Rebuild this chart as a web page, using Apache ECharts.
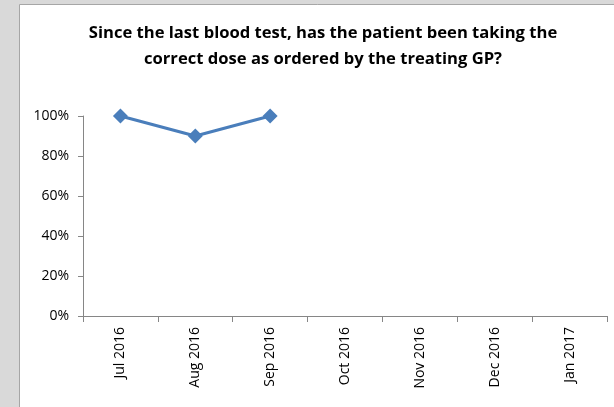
<!DOCTYPE html>
<html>
<head>
<meta charset="utf-8">
<script src="https://cdn.jsdelivr.net/npm/echarts@6/dist/echarts.min.js"></script>
<style>
  html, body { margin: 0; padding: 0; background: #d9d9d9; }
  #chart { width: 614px; height: 407px; }
</style>
</head>
<body>
<div id="chart"></div>
<script>
// months on the x axis
const months = ['Jul 2016', 'Aug 2016', 'Sep 2016', 'Oct 2016', 'Nov 2016', 'Dec 2016', 'Jan 2017']
// share answering "yes" (0..1), later months not collected yet
const correctDose = [1.0, 0.9, 1.0, null, null, null, null]
const yTicks = [0, 0.2, 0.4, 0.6, 0.8, 1.0]

const chart = echarts.init(document.getElementById('chart'))
chart.setOption({
  backgroundColor: '#d9d9d9',
  graphic: [
    {
      type: 'rect',
      shape: { x: 19.5, y: 4.5, width: 620, height: 420 },
      style: { fill: '#ffffff', stroke: '#a6a6a6', lineWidth: 1 },
      z: -10
    }
  ],
  title: {
    text: 'Since the last blood test, has the patient been taking the\ncorrect dose as ordered by the treating GP?',
    left: 318,
    top: 15,
    textAlign: 'center',
    textStyle: {
      fontFamily: 'Open Sans',
      fontWeight: 'bold',
      fontSize: 16.6,
      lineHeight: 26,
      color: '#000'
    }
  },
  grid: { left: 83, right: 7, top: 116, bottom: 91 },
  xAxis: {
    type: 'category',
    data: months,
    boundaryGap: true,
    axisLine: { lineStyle: { color: '#868686', width: 1 } },
    axisTick: { show: true, length: 6, lineStyle: { color: '#868686' } },
    axisLabel: {
      rotate: 90,
      margin: 11,
      fontFamily: 'Open Sans',
      fontSize: 14,
      color: '#000'
    },
    splitLine: { show: false }
  },
  yAxis: {
    type: 'value',
    min: yTicks[0],
    max: yTicks[yTicks.length - 1],
    interval: 0.2,
    axisLine: { show: true, lineStyle: { color: '#868686', width: 1 } },
    axisTick: { show: true, length: 5, lineStyle: { color: '#868686' } },
    axisLabel: {
      margin: 14,
      fontFamily: 'Open Sans',
      fontSize: 14,
      color: '#000',
      formatter: v => Math.round(v * 100) + '%'
    },
    splitLine: { show: false }
  },
  series: [
    {
      type: 'line',
      data: correctDose,
      symbol: 'diamond',
      symbolSize: 15,
      showAllSymbol: true,
      itemStyle: { color: '#4a7ebb' },
      lineStyle: { color: '#4a7ebb', width: 3 },
      animation: false
    }
  ]
})
</script>
</body>
</html>
